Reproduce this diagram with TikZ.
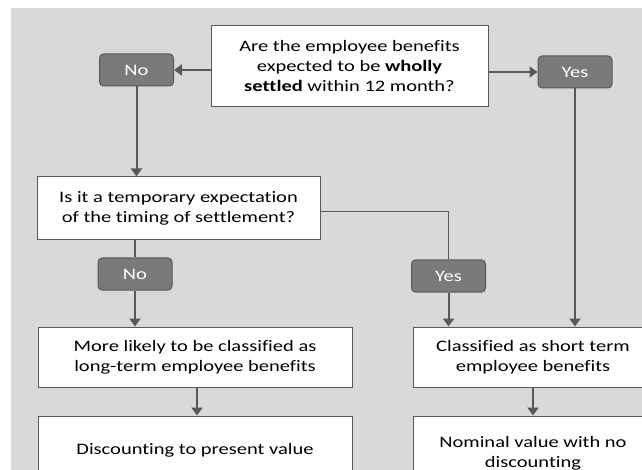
\documentclass[tikz,border=0pt]{standalone}
\usepackage{fontspec}
\setmainfont{Carlito}[FakeStretch=1.28, Ligatures={NoCommon}]
\usetikzlibrary{arrows.meta}
\definecolor{panel}{HTML}{D9D9D9}
\definecolor{edge}{HTML}{595959}
\definecolor{tag}{HTML}{7A7A7A}
\tikzset{
  every node/.style={font=\fontsize{16pt}{20pt}\selectfont},
  textbox/.style={draw=edge, line width=1pt, fill=white, align=center, inner sep=0pt,
    execute at begin node={\rule{0pt}{17pt}}},
  tagbox/.style={draw=edge, line width=1pt, fill=tag, rounded corners=4pt,
    text=white, minimum width=74pt, minimum height=32pt, inner sep=0pt},
  flow/.style={draw=edge, line width=2pt, -{Triangle[length=8pt,width=11pt]}},
  plain/.style={draw=edge, line width=2pt},
  thinline/.style={draw=edge, line width=1pt},
}
\begin{document}
\begin{tikzpicture}[x=1pt, y=-1pt]
\useasboundingbox (0,0) rectangle (642,470);
\clip (0,0) rectangle (642,470);
\fill[panel] (11,8) rectangle (642,470);

% question and outcome boxes
\node[textbox, minimum width=277pt, minimum height=81pt] (q1) at (349.5,66.5)
  {Are the employee benefits\\expected to be \textbf{wholly}\\\textbf{settled} within 12 month?};
\node[textbox, minimum width=283pt, minimum height=63pt] (q2) at (178.5,208.5)
  {Is it a temporary expectation\\of the timing of settlement?};
\node[textbox, minimum width=314pt, minimum height=60pt] (long) at (195,357)
  {More likely to be classified as\\long-term employee benefits};
\node[textbox, minimum width=314pt, minimum height=62pt] (disc) at (195,447)
  {Discounting to present value};
\node[textbox, minimum width=240pt, minimum height=60pt] (short) at (533,357)
  {Classified as short term\\employee benefits};
\node[textbox, minimum width=240pt, minimum height=74pt] (nominal) at (533,453)
  {Nominal value with no\\discounting};

% answer tags
\node[tagbox] (no1) at (136.5,70) {No};
\node[tagbox] (yes1) at (575,72) {Yes};
\node[tagbox] (no2) at (135,274) {No};
\node[tagbox] (yes2) at (448.5,276) {Yes};

% connectors
\draw[flow] (q1.west |- no1.east) -- (no1.east);
\draw[flow] (q1.east |- yes1.west) -- (yes1.west);
\draw[flow] (no1.south) -- (no1.south |- q2.north);
\draw[thinline] ([yshift=-3pt]q2.east) -| (yes2.north);
\draw[plain] (q2.south -| no2.north) -- (no2.north);
\draw[flow] (no2.south) -- (no2.south |- long.north);
\draw[flow] (yes2.south) -- (yes2.south |- short.north);
\draw[flow] (yes1.south) -- (yes1.south |- short.north);
\draw[flow] ([xshift=2pt]long.south) -- ([xshift=2pt]long.south |- disc.north);
\draw[flow] (short.south) -- (short.south |- nominal.north);
\end{tikzpicture}
\end{document}
